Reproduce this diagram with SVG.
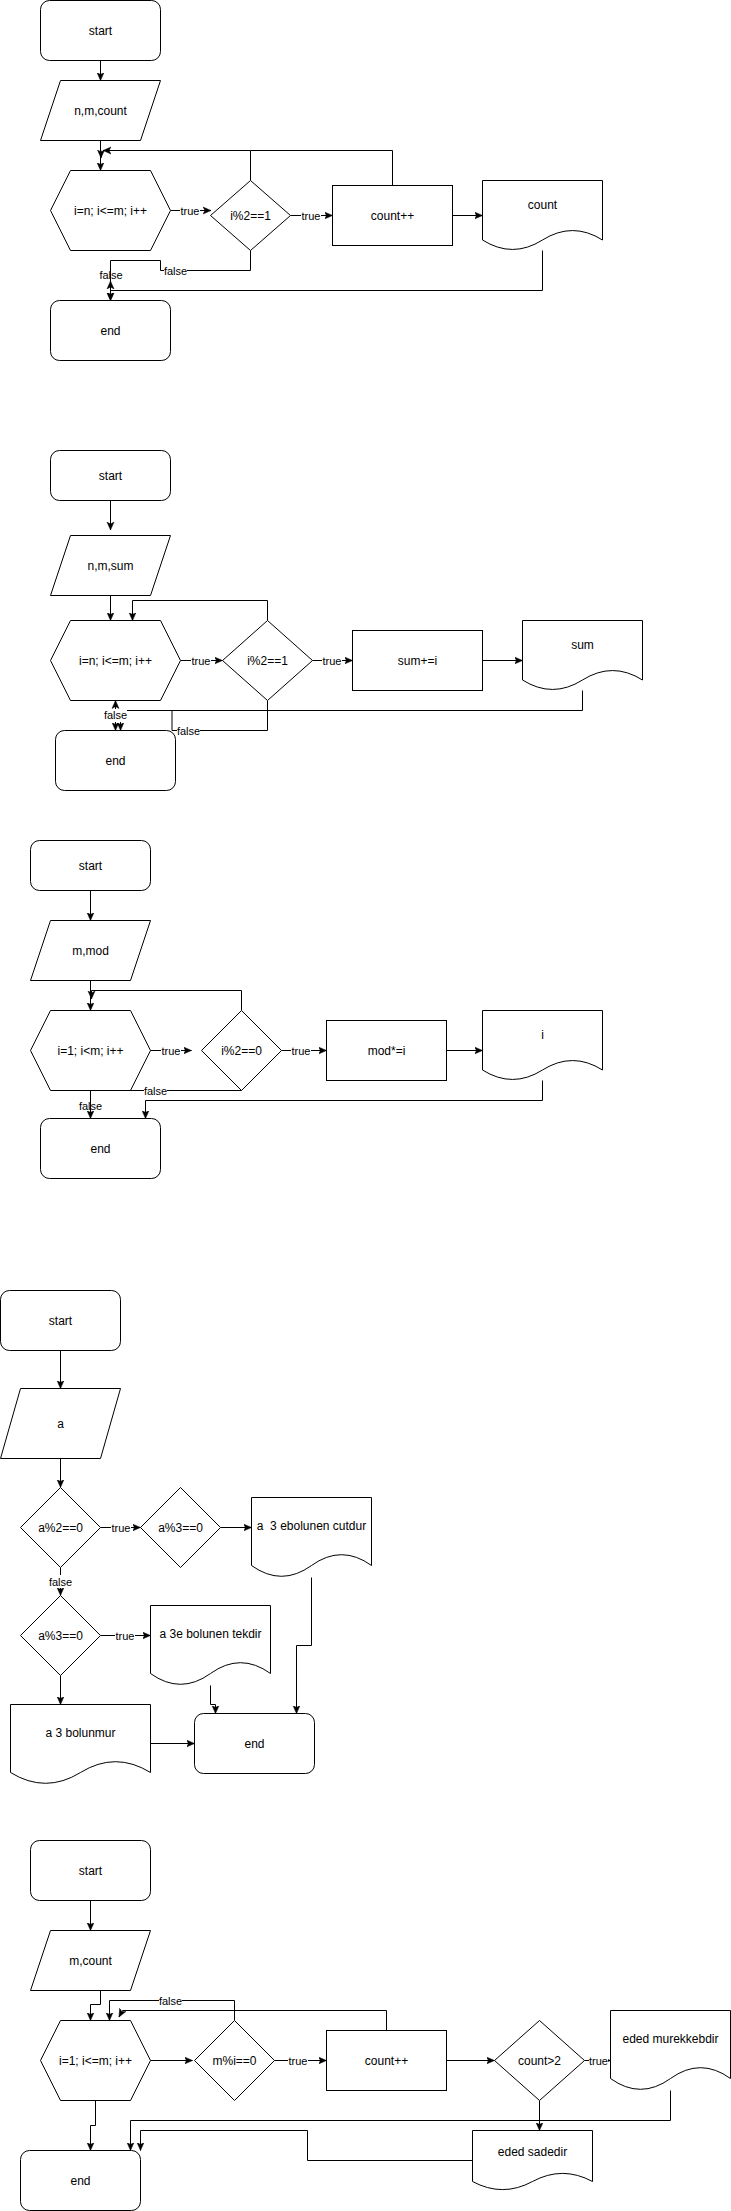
<svg xmlns="http://www.w3.org/2000/svg" width="731" height="2211" viewBox="0 0 731 2211">
<style>
.s{fill:#fff;stroke:#000;stroke-width:1}
.e{fill:none;stroke:#000;stroke-width:1;marker-end:url(#a)}
.n{fill:none;stroke:#000;stroke-width:1}
.t{font-family:"Liberation Sans",Arial,Helvetica,sans-serif;font-size:12px;fill:#000;text-anchor:middle;dominant-baseline:central}
.l{font-family:"Liberation Sans",Arial,Helvetica,sans-serif;font-size:11px;fill:#000;text-anchor:middle;dominant-baseline:central}
.bg{fill:#fff;stroke:none}
</style>
<defs>
<marker id="a" markerUnits="userSpaceOnUse" markerWidth="9" markerHeight="9" refX="8" refY="4.5" orient="auto" viewBox="0 0 9 9">
<path d="M0,1 L8,4.5 L0,8 L2,4.5 Z" fill="#000" stroke="#000" stroke-width="0.5"/>
</marker>
</defs>
<rect width="731" height="2211" fill="#fff"/>

<!-- ===== Chart 1 ===== -->
<g id="c1-connectors">
<path class="e" d="M100.5,60.5 V80.5"/>
<path class="e" d="M100.5,140.5 V170.5"/>
<path class="e" d="M250.5,180.5 V150.5 H103"/>
<path class="n" d="M392.5,185.5 V150.5 H250.5"/>
<path class="e" d="M101,150.5 V158"/>
<path class="e" d="M170.5,210.5 H211"/>
<rect class="bg" x="180" y="204" width="20" height="13"/><text class="l" x="190" y="210.5">true</text>
<path class="e" d="M290.5,215.5 H332.5"/>
<rect class="bg" x="301" y="209" width="20" height="13"/><text class="l" x="311" y="215.5">true</text>
<path class="e" d="M452.5,215.5 H482.5"/>
<path class="e" d="M542.5,250.5 V290.5 H110.5 V300.5"/>
<path class="e" d="M110.5,290.5 V281"/>
<path class="e" d="M250.5,250.5 V270.5 H160.5 V260.5 H110.5 V300.5"/>
<rect class="bg" x="164" y="264" width="23" height="13"/><text class="l" x="175.5" y="270.5">false</text>
<text class="l" x="111" y="275">false</text>
</g>
<g id="c1-start"><rect class="s" x="40.5" y="0.5" width="120" height="60" rx="9"/><text class="t" x="100.5" y="30.5">start</text></g>
<g id="c1-input"><polygon class="s" points="60.5,80.5 160.5,80.5 140.5,140.5 40.5,140.5"/><text class="t" x="100.5" y="110.5">n,m,count</text></g>
<g id="c1-loop"><polygon class="s" points="70.5,170.5 150.5,170.5 170.5,210.5 150.5,250.5 70.5,250.5 50.5,210.5"/><text class="t" x="110.5" y="210.5">i=n; i&lt;=m; i++</text></g>
<g id="c1-cond"><polygon class="s" points="250.5,180.5 290.5,215.5 250.5,250.5 210.5,215.5"/><text class="t" x="250.5" y="215.5">i%2==1</text></g>
<g id="c1-inc"><rect class="s" x="332.5" y="185.5" width="120" height="60"/><text class="t" x="392.5" y="215.5">count++</text></g>
<g id="c1-out"><path class="s" d="M482.5,180.5 L602.5,180.5 L602.5,240 Q572.5,221.1 542.5,240 Q512.5,258.9 482.5,240 Z"/><text class="t" x="542.5" y="205">count</text></g>
<g id="c1-end"><rect class="s" x="50.5" y="300.5" width="120" height="60" rx="9"/><text class="t" x="110.5" y="330.5">end</text></g>

<!-- ===== Chart 2 ===== -->
<g id="c2-connectors">
<path class="e" d="M110.5,500.5 V530"/>
<path class="e" d="M110.5,595.5 V620.5"/>
<path class="e" d="M267.5,620.5 V600.5 H132.5 V620.5"/>
<path class="e" d="M180.5,660.5 H222.5"/>
<rect class="bg" x="191" y="654" width="20" height="13"/><text class="l" x="201" y="660.5">true</text>
<path class="e" d="M312.5,660.5 H352.5"/>
<rect class="bg" x="322" y="654" width="20" height="13"/><text class="l" x="332" y="660.5">true</text>
<path class="e" d="M482.5,660.5 H522.5"/>
<path class="e" d="M582.5,690.5 V710.5 H115.5 V700.5"/>
<path class="e" d="M267.5,700.5 V730.5 H172 V710.5 H120.5 V730.5"/>
<rect class="bg" x="177" y="724" width="23" height="13"/><text class="l" x="188.5" y="730.5">false</text>
<path class="e" d="M115.5,700.5 V730.5"/>
<rect class="bg" x="104" y="709" width="23" height="13"/><text class="l" x="115.5" y="715">false</text>
</g>
<g id="c2-start"><rect class="s" x="50.5" y="450.5" width="120" height="50" rx="9"/><text class="t" x="110.5" y="475.5">start</text></g>
<g id="c2-input"><polygon class="s" points="70.5,535.5 170.5,535.5 150.5,595.5 50.5,595.5"/><text class="t" x="110.5" y="565.5">n,m,sum</text></g>
<g id="c2-loop"><polygon class="s" points="70.5,620.5 160.5,620.5 180.5,660.5 160.5,700.5 70.5,700.5 50.5,660.5"/><text class="t" x="115.5" y="660.5">i=n; i&lt;=m; i++</text></g>
<g id="c2-cond"><polygon class="s" points="267.5,620.5 312.5,660.5 267.5,700.5 222.5,660.5"/><text class="t" x="267.5" y="660.5">i%2==1</text></g>
<g id="c2-inc"><rect class="s" x="352.5" y="630.5" width="130" height="60"/><text class="t" x="417.5" y="660.5">sum+=i</text></g>
<g id="c2-out"><path class="s" d="M522.5,620.5 L642.5,620.5 L642.5,680 Q612.5,661.1 582.5,680 Q552.5,698.9 522.5,680 Z"/><text class="t" x="582.5" y="645">sum</text></g>
<g id="c2-end"><rect class="s" x="55.5" y="730.5" width="120" height="60" rx="9"/><text class="t" x="115.5" y="760.5">end</text></g>

<!-- ===== Chart 3 ===== -->
<g id="c3-connectors">
<path class="e" d="M90.5,890.5 V920.5"/>
<path class="e" d="M90.5,980.5 V1010.5"/>
<path class="e" d="M241.5,1010.5 V990.5 H91.5 V999"/>
<path class="e" d="M150.5,1050.5 H191.5"/>
<rect class="bg" x="161" y="1044" width="20" height="13"/><text class="l" x="171" y="1050.5">true</text>
<path class="e" d="M281.5,1050.5 H326.5"/>
<rect class="bg" x="291" y="1044" width="20" height="13"/><text class="l" x="301" y="1050.5">true</text>
<path class="e" d="M446.5,1050.5 H482.5"/>
<path class="e" d="M542.5,1080.5 V1100.5 H145.5 V1118.5"/>
<path class="n" d="M241.5,1090.5 H90.5"/>
<rect class="bg" x="144" y="1084" width="23" height="13"/><text class="l" x="155.5" y="1090.5">false</text>
<path class="e" d="M90.5,1090.5 V1118.5"/>
<text class="l" x="90.5" y="1105.5">false</text>
</g>
<g id="c3-start"><rect class="s" x="30.5" y="840.5" width="120" height="50" rx="9"/><text class="t" x="90.5" y="865.5">start</text></g>
<g id="c3-input"><polygon class="s" points="50.5,920.5 150.5,920.5 130.5,980.5 30.5,980.5"/><text class="t" x="90.5" y="950.5">m,mod</text></g>
<g id="c3-loop"><polygon class="s" points="50.5,1010.5 130.5,1010.5 150.5,1050.5 130.5,1090.5 50.5,1090.5 30.5,1050.5"/><text class="t" x="90.5" y="1050.5">i=1; i&lt;m; i++</text></g>
<g id="c3-cond"><polygon class="s" points="241.5,1010.5 281.5,1050.5 241.5,1090.5 201.5,1050.5"/><text class="t" x="241.5" y="1050.5">i%2==0</text></g>
<g id="c3-inc"><rect class="s" x="326.5" y="1020.5" width="120" height="60"/><text class="t" x="386.5" y="1050.5">mod*=i</text></g>
<g id="c3-out"><path class="s" d="M482.5,1010.5 L602.5,1010.5 L602.5,1070 Q572.5,1051.1 542.5,1070 Q512.5,1088.9 482.5,1070 Z"/><text class="t" x="542.5" y="1035">i</text></g>
<g id="c3-end"><rect class="s" x="40.5" y="1118.5" width="120" height="60" rx="9"/><text class="t" x="100.5" y="1148.5">end</text></g>

<!-- ===== Chart 4 ===== -->
<g id="c4-connectors">
<path class="e" d="M60.5,1350.5 V1388.5"/>
<path class="e" d="M60.5,1458.5 V1487.5"/>
<path class="e" d="M100.5,1527.5 H140.5"/>
<rect class="bg" x="111" y="1521" width="20" height="13"/><text class="l" x="121" y="1527.5">true</text>
<path class="e" d="M220.5,1527.5 H251.5"/>
<path class="e" d="M311.5,1577.5 V1645.5 H296.5 V1713.5"/>
<path class="e" d="M60.5,1567.5 V1595.5"/>
<rect class="bg" x="49" y="1575" width="23" height="13"/><text class="l" x="60.5" y="1581.5">false</text>
<path class="e" d="M100.5,1635.5 H150.5"/>
<rect class="bg" x="115" y="1629" width="20" height="13"/><text class="l" x="125" y="1635.5">true</text>
<path class="e" d="M210.5,1685.5 V1704.5 H215.5 V1713.5"/>
<path class="e" d="M60.5,1675.5 V1704.5"/>
<path class="e" d="M150.5,1743.5 H194.5"/>
</g>
<g id="c4-start"><rect class="s" x="0.5" y="1290.5" width="120" height="60" rx="9"/><text class="t" x="60.5" y="1320.5">start</text></g>
<g id="c4-input"><polygon class="s" points="20.5,1388.5 120.5,1388.5 100.5,1458.5 0.5,1458.5"/><text class="t" x="60.5" y="1423.5">a</text></g>
<g id="c4-cond1"><polygon class="s" points="60.5,1487.5 100.5,1527.5 60.5,1567.5 20.5,1527.5"/><text class="t" x="60.5" y="1527.5">a%2==0</text></g>
<g id="c4-cond2"><polygon class="s" points="180.5,1487.5 220.5,1527.5 180.5,1567.5 140.5,1527.5"/><text class="t" x="180.5" y="1527.5">a%3==0</text></g>
<g id="c4-out1"><path class="s" d="M251.5,1497.5 L371.5,1497.5 L371.5,1565.5 Q341.5,1543.9 311.5,1565.5 Q281.5,1587.1 251.5,1565.5 Z"/><text class="t" x="311.5" y="1525.5" xml:space="preserve">a  3 ebolunen cutdur</text></g>
<g id="c4-cond3"><polygon class="s" points="60.5,1595.5 100.5,1635.5 60.5,1675.5 20.5,1635.5"/><text class="t" x="60.5" y="1635.5">a%3==0</text></g>
<g id="c4-out2"><path class="s" d="M150.5,1605.5 L270.5,1605.5 L270.5,1673.5 Q240.5,1651.9 210.5,1673.5 Q180.5,1695.1 150.5,1673.5 Z"/><text class="t" x="210.5" y="1633.5">a 3e bolunen tekdir</text></g>
<g id="c4-out3"><path class="s" d="M10.5,1704.5 L150.5,1704.5 L150.5,1772.5 Q115.5,1750.9 80.5,1772.5 Q45.5,1794.1 10.5,1772.5 Z"/><text class="t" x="80.5" y="1732.5">a 3 bolunmur</text></g>
<g id="c4-end"><rect class="s" x="194.5" y="1713.5" width="120" height="60" rx="9"/><text class="t" x="254.5" y="1743.5">end</text></g>

<!-- ===== Chart 5 ===== -->
<g id="c5-connectors">
<path class="e" d="M90.5,1900.5 V1930.5"/>
<path class="e" d="M100.5,1990.5 V2004.5 H90.5 V2020.5"/>
<path class="e" d="M150.5,2060.5 H192.5"/>
<path class="e" d="M234.5,2020.5 V2000.5 H109.5 V2020.5"/>
<rect class="bg" x="159" y="1994" width="23" height="13"/><text class="l" x="170.5" y="2000.5">false</text>
<path class="e" d="M274.5,2060.5 H326.5"/>
<rect class="bg" x="288" y="2054" width="20" height="13"/><text class="l" x="298" y="2060.5">true</text>
<path class="e" d="M386.5,2030.5 V2010.5 H122.5 L119,2017"/>
<path class="e" d="M446.5,2060.5 H494.5"/>
<path class="e" d="M584.5,2060.5 H610.5"/>
<rect class="bg" x="589" y="2054" width="19" height="13"/><text class="l" x="598.5" y="2060.5">true</text>
<path class="e" d="M670.5,2090.5 V2120.5 H130.5 V2150.5"/>
<path class="e" d="M539.5,2100.5 V2130.5"/>
<path class="e" d="M472.5,2160.5 H307.5 V2130.5 H140.5 V2150.5"/>
<path class="e" d="M95.5,2100.5 V2125.5 H90.5 V2150.5"/>
</g>
<g id="c5-start"><rect class="s" x="30.5" y="1840.5" width="120" height="60" rx="9"/><text class="t" x="90.5" y="1870.5">start</text></g>
<g id="c5-input"><polygon class="s" points="50.5,1930.5 150.5,1930.5 130.5,1990.5 30.5,1990.5"/><text class="t" x="90.5" y="1960.5">m,count</text></g>
<g id="c5-loop"><polygon class="s" points="60.5,2020.5 130.5,2020.5 150.5,2060.5 130.5,2100.5 60.5,2100.5 40.5,2060.5"/><text class="t" x="95.5" y="2060.5">i=1; i&lt;=m; i++</text></g>
<g id="c5-cond1"><polygon class="s" points="234.5,2020.5 274.5,2060.5 234.5,2100.5 194.5,2060.5"/><text class="t" x="234.5" y="2060.5">m%i==0</text></g>
<g id="c5-inc"><rect class="s" x="326.5" y="2030.5" width="120" height="60"/><text class="t" x="386.5" y="2060.5">count++</text></g>
<g id="c5-cond2"><polygon class="s" points="539.5,2020.5 584.5,2060.5 539.5,2100.5 494.5,2060.5"/><text class="t" x="539.5" y="2060.5">count&gt;2</text></g>
<g id="c5-out1"><path class="s" d="M610.5,2010.5 L730.5,2010.5 L730.5,2078.5 Q700.5,2056.9 670.5,2078.5 Q640.5,2100.1 610.5,2078.5 Z"/><text class="t" x="670.5" y="2038.5">eded murekkebdir</text></g>
<g id="c5-out2"><path class="s" d="M472.5,2130.5 L592.5,2130.5 L592.5,2181.5 Q562.5,2165.3 532.5,2181.5 Q502.5,2197.7 472.5,2181.5 Z"/><text class="t" x="532.5" y="2151.5">eded sadedir</text></g>
<g id="c5-end"><rect class="s" x="20.5" y="2150.5" width="120" height="60" rx="9"/><text class="t" x="80.5" y="2180.5">end</text></g>
</svg>
